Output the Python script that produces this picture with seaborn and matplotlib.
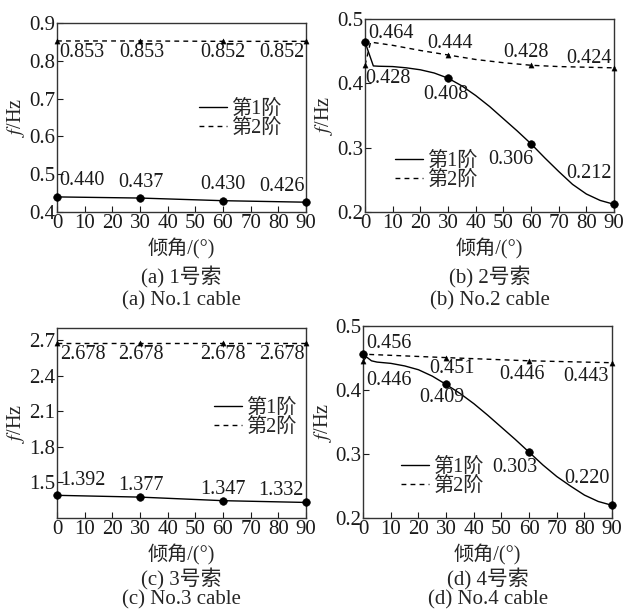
import pandas as pd
import matplotlib
matplotlib.use("Agg")
import matplotlib.pyplot as plt
import seaborn as sns
from matplotlib.lines import Line2D

# ---- data ----
angles = [0, 30, 60, 90]

a_mode1 = [0.440, 0.437, 0.430, 0.426]
a_mode2 = [0.853, 0.853, 0.852, 0.852]

b_mode1 = [0.464, 0.408, 0.306, 0.212]
b_mode2 = [0.428, 0.444, 0.428, 0.424]

c_mode1 = [1.392, 1.377, 1.347, 1.332]
c_mode2 = [2.678, 2.678, 2.678, 2.678]

d_mode1 = [0.456, 0.409, 0.303, 0.220]
d_mode2 = [0.446, 0.451, 0.446, 0.443]

# traced curves for cables 2 and 4
b_curve1_x = [0, 3, 5, 10, 15, 20, 25, 30, 35, 40, 45, 50, 55, 60, 65, 70, 75, 80, 85, 90]
b_curve1_y = [0.464, 0.427, 0.4265, 0.426, 0.424, 0.421, 0.416, 0.408, 0.396, 0.381, 0.364,
              0.345, 0.326, 0.306, 0.284, 0.263, 0.243, 0.228, 0.218, 0.212]
b_curve2_x = [0, 2, 10, 20, 30, 40, 50, 60, 70, 80, 90]
b_curve2_y = [0.428, 0.464, 0.459, 0.451, 0.444, 0.437, 0.432, 0.428, 0.426, 0.425, 0.424]

d_curve1_x = [0, 3, 5, 10, 15, 20, 25, 30, 35, 40, 45, 50, 55, 60, 65, 70, 75, 80, 85, 90]
d_curve1_y = [0.456, 0.446, 0.444, 0.442, 0.438, 0.432, 0.422, 0.409, 0.395, 0.379, 0.361,
              0.342, 0.323, 0.303, 0.283, 0.265, 0.250, 0.236, 0.226, 0.220]
d_curve2_x = [0, 2, 30, 60, 90]
d_curve2_y = [0.446, 0.456, 0.451, 0.446, 0.443]

legend_labels = ["第1阶", "第2阶"]
xticks = [0, 10, 20, 30, 40, 50, 60, 70, 80, 90]

sns.set_theme(style="ticks")
plt.rcParams['font.family'] = ['Liberation Serif', 'Noto Sans CJK SC']
plt.rcParams['mathtext.fontset'] = 'stix'
plt.rcParams['axes.unicode_minus'] = False
FS = 14.5
TICK_FS = 15
CAP_FS = 15
DASH = (0, (3.5, 3))

fig = plt.figure(figsize=(6.24, 6.11), dpi=100)

panels = [
    dict(rect=[0.0913, 0.653, 0.399, 0.309], m1=a_mode1, m2=a_mode2,
         c1=(angles, a_mode1), c2=(angles, a_mode2),
         ylim=(0.4, 0.9), yticks=[0.4, 0.5, 0.6, 0.7, 0.8, 0.9],
         leg=(0.57, 0.595), cap=("(a) 1号索", "(a) No.1 cable"), capoff=(-47, -64),
         off1=[(2, 11.5, 'left'), (1, 11.5, 'center'), (0, 11.5, 'center'), (-1, 11.5, 'right')],
         off2=[(2, -8, 'left'), (1, -8, 'center'), (0, -8, 'center'), (-1, -8, 'right')]),
    dict(rect=[0.585, 0.653, 0.399, 0.316], m1=b_mode1, m2=b_mode2,
         c1=(b_curve1_x, b_curve1_y), c2=(b_curve2_x, b_curve2_y),
         ylim=(0.2, 0.5), yticks=[0.2, 0.3, 0.4, 0.5],
         leg=(0.12, 0.313), cap=("(b) 2号索", "(b) No.2 cable"), capoff=(-47, -64),
         off1=[(2, 6.5, 'left'), (-1.7, -11.5, 'center'), (-14.5, -11, 'center'), (-1.7, 22, 'right')],
         off2=[(0.5, -9.5, 'left'), (1.7, 8.5, 'center'), (-4, 9.5, 'center'), (-1.7, 7, 'right')]),
    dict(rect=[0.0913, 0.152, 0.399, 0.311], m1=c_mode1, m2=c_mode2,
         c1=(angles, c_mode1), c2=(angles, c_mode2),
         ylim=(1.2, 2.8), yticks=[1.5, 1.8, 2.1, 2.4, 2.7],
         leg=(0.63, 0.628), cap=("(c) 3号索", "(c) No.3 cable"), capoff=(-44.5, -59),
         off1=[(2, 11, 'left'), (1, 8.6, 'center'), (0, 8, 'center'), (-1.7, 8.6, 'right')],
         off2=[(2, -8.6, 'left'), (1, -8.6, 'center'), (0, -8.6, 'center'), (-1, -8.6, 'right')]),
    dict(rect=[0.582, 0.152, 0.399, 0.314], m1=d_mode1, m2=d_mode2,
         c1=(d_curve1_x, d_curve1_y), c2=(d_curve2_x, d_curve2_y),
         ylim=(0.2, 0.5), yticks=[0.2, 0.3, 0.4, 0.5],
         leg=(0.15, 0.314), cap=("(d) 4号索", "(d) No.4 cable"), capoff=(-44.5, -59),
         off1=[(2, 8, 'left'), (-3.4, -9.5, 'center'), (-10, -11, 'center'), (-2, 19, 'right')],
         off2=[(2, -14, 'left'), (4.3, -8, 'center'), (-5, -9.5, 'center'), (-2.4, -10, 'right')]),
]

for p in panels:
    ax = fig.add_axes(p['rect'])
    df1 = pd.DataFrame({'angle': p['c1'][0], 'f': p['c1'][1]})
    df2 = pd.DataFrame({'angle': p['c2'][0], 'f': p['c2'][1]})
    sns.lineplot(data=df1, x='angle', y='f', ax=ax, color='black', lw=1.0, sort=False)
    sns.lineplot(data=df2, x='angle', y='f', ax=ax, color='black', lw=1.0, sort=False,
                 linestyle=DASH)
    mk = pd.DataFrame({'angle': angles, 'm1': p['m1'], 'm2': p['m2']})
    sns.scatterplot(data=mk, x='angle', y='m1', ax=ax, color='black', marker='o', s=30,
                    edgecolor='black', zorder=5, clip_on=False)
    sns.scatterplot(data=mk, x='angle', y='m2', ax=ax, color='black', marker='^', s=14,
                    edgecolor='black', zorder=5, clip_on=False)

    for x, y, (dx, dy, ha) in zip(angles, p['m1'], p['off1']):
        ax.annotate(f"{y:.3f}", xy=(x, y), xytext=(dx, dy), textcoords='offset points',
                    ha=ha, va='center', fontsize=FS, color='#1a1a1a')
    for x, y, (dx, dy, ha) in zip(angles, p['m2'], p['off2']):
        ax.annotate(f"{y:.3f}", xy=(x, y), xytext=(dx, dy), textcoords='offset points',
                    ha=ha, va='center', fontsize=FS, color='#1a1a1a')

    ax.set_xlim(0, 90)
    ax.set_ylim(*p['ylim'])
    ax.set_xticks(xticks)
    ax.set_xticklabels([str(t) for t in xticks])
    ax.set_yticks(p['yticks'])
    ax.set_yticklabels([f"{t:.1f}" for t in p['yticks']])
    ax.tick_params(direction='in', length=4, width=0.8, labelsize=TICK_FS, pad=1.5,
                   colors='#1a1a1a')
    for s in ax.spines.values():
        s.set_visible(True)
        s.set_linewidth(1.0)
        s.set_color('#333333')
    ax.set_xlabel("倾角/(°)", fontsize=FS, labelpad=4)
    ax.set_ylabel("$f$/Hz", fontsize=FS, labelpad=1)

    handles = [Line2D([], [], color='black', lw=1.0),
               Line2D([], [], color='black', lw=1.0, linestyle=DASH)]
    ax.legend(handles, legend_labels, loc='upper left', bbox_to_anchor=p['leg'],
              frameon=False, fontsize=FS, handlelength=1.4, handletextpad=0.2,
              labelspacing=0.0, borderpad=0, borderaxespad=0)

    ax.annotate(p['cap'][0], xy=(0.5, 0), xycoords='axes fraction', xytext=(0, p['capoff'][0]),
                textcoords='offset points', ha='center', va='center', fontsize=CAP_FS)
    ax.annotate(p['cap'][1], xy=(0.5, 0), xycoords='axes fraction', xytext=(0, p['capoff'][1]),
                textcoords='offset points', ha='center', va='center', fontsize=CAP_FS)

fig.savefig("out.png", dpi=100)
